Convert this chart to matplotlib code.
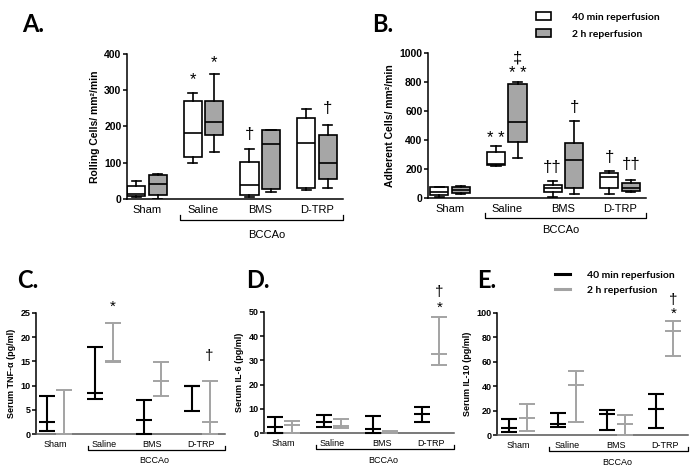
import numpy as np
import matplotlib.pyplot as plt
from matplotlib.patches import Patch
from matplotlib.lines import Line2D

plt.rcParams['font.family'] = ['Liberation Sans', 'DejaVu Sans']

groups = ['Sham', 'Saline', 'BMS', 'D-TRP']

# box plots: [whisker low, q1, median, q3, whisker high]
rolling_40 = [[5, 7, 15, 35, 51], [100, 116, 183, 270, 293], [6, 12, 38, 102, 137], [24, 31, 154, 223, 249]]
rolling_2h = [[0, 12, 40, 65, 70], [129, 176, 212, 270, 345], [19, 27, 151, 190, 190], [29, 56, 100, 176, 204]]
adherent_40 = [[10, 20, 40, 75, 78], [222, 228, 232, 315, 362], [10, 39, 69, 90, 115], [30, 72, 145, 169, 185]]
adherent_2h = [[25, 35, 53, 76, 81], [279, 388, 527, 783, 797], [30, 69, 263, 379, 531], [42, 48, 72, 104, 122]]

# serum cytokines: middle value with low/high range
tnf_40_mid = [2.5, 8.5, 2.8, 9.9]
tnf_40_lo = [0.7, 7.2, 0.0, 4.7]
tnf_40_hi = [7.9, 17.9, 7.0, 10.0]
tnf_2h_mid = [0.0, 15.1, 11.0, 2.5]
tnf_2h_lo = [0.0, 14.9, 7.9, 0.0]
tnf_2h_hi = [9.0, 23.0, 14.9, 11.0]

il6_40_mid = [2.7, 4.8, 1.9, 7.8]
il6_40_lo = [0.0, 2.5, 0.0, 4.8]
il6_40_hi = [6.8, 7.7, 7.1, 11.0]
il6_2h_mid = [3.3, 3.0, 0.4, 32.5]
il6_2h_lo = [0.0, 2.3, 0.0, 28.1]
il6_2h_hi = [5.2, 6.0, 0.8, 47.9]

il10_40_mid = [6.2, 9.2, 17.4, 21.2]
il10_40_lo = [2.4, 7.1, 4.3, 6.3]
il10_40_hi = [13.3, 18.5, 20.7, 33.4]
il10_2h_mid = [14.1, 40.8, 9.2, 84.8]
il10_2h_lo = [3.8, 11.1, 0.0, 65.0]
il10_2h_hi = [25.8, 52.7, 16.6, 93.2]

GREY_BOX = '#a6a6a6'
GREY_LINE = '#a3a3a3'
x = np.arange(len(groups))

fig = plt.figure(figsize=(6.97, 4.72), dpi=100)


def style_axes(ax, ylim, yticks, ylabel, xlim, fs_num, fs_cat, bottom_color='black'):
    ax.set_xlim(*xlim)
    ax.set_ylim(*ylim)
    ax.set_yticks(yticks)
    ax.set_xticks(x)
    ax.set_xticklabels(groups, fontsize=fs_cat)
    for lab in ax.get_yticklabels():
        lab.set_fontsize(fs_num)
        lab.set_fontweight('bold')
    ax.set_ylabel(ylabel, fontsize=fs_num, fontweight='bold', labelpad=3)
    ax.spines['top'].set_visible(False)
    ax.spines['right'].set_visible(False)
    ax.spines['left'].set_linewidth(1.1)
    ax.spines['bottom'].set_linewidth(1.1)
    ax.spines['bottom'].set_color(bottom_color)
    ax.tick_params(axis='x', length=0, pad=4)
    ax.tick_params(axis='y', length=3, width=1.1, pad=1)
    ax.patch.set_alpha(0)


def bracket(ax, x0, x1, y, lx, ly, fs):
    tr = ax.get_xaxis_transform()
    ax.plot([x0, x0, x1, x1], [y + 0.035, y, y, y + 0.035], color='black', lw=0.9,
            transform=tr, clip_on=False)
    ax.text(lx, ly, 'BCCAo', transform=tr, ha='center', va='center', fontsize=fs)


def boxes(ax, rows, pos, face):
    stats = [dict(whislo=r[0], q1=r[1], med=r[2], q3=r[3], whishi=r[4], fliers=[]) for r in rows]
    lp = dict(color='black', linewidth=1.2)
    ax.bxp(stats, positions=pos, widths=0.32, patch_artist=True, showfliers=False,
           boxprops=dict(facecolor=face, edgecolor='black', linewidth=1.2),
           medianprops=lp, whiskerprops=lp, capprops=lp, manage_ticks=False)


def ranges(ax, pos, mid, lo, hi, color, lw):
    mid, lo, hi = np.array(mid), np.array(lo), np.array(hi)
    ax.errorbar(pos, mid, yerr=[mid - lo, hi - mid], fmt='_', color=color, ecolor=color,
                elinewidth=lw, capsize=5.5, capthick=lw, markersize=11, mew=lw,
                clip_on=False, zorder=3)


def marks(ax, items, fs=11):
    for xp, yp, s in items:
        ax.text(xp, yp, s, ha='center', va='center', fontsize=fs, clip_on=False)


# ---- A: rolling cells
axA = fig.add_axes([0.1822, 0.5784, 0.3099, 0.3072])
boxes(axA, rolling_40, x - 0.19, 'white')
boxes(axA, rolling_2h, x + 0.19, GREY_BOX)
style_axes(axA, (0, 400), range(0, 401, 100), 'Rolling Cells/ mm\u00b2/min', (-0.35, 3.46), 7.5, 8)
bracket(axA, 0.58, 3.46, -0.145, 2.12, -0.248, 8)
marks(axA, [(1 - 0.19, 330, '*'), (1 + 0.19, 376, '*'), (2 - 0.19, 177, '\u2020'), (3 + 0.19, 251, '\u2020')], 12)

# ---- B: adherent cells
axB = fig.add_axes([0.6141, 0.5805, 0.3128, 0.3072])
boxes(axB, adherent_40, x - 0.19, 'white')
boxes(axB, adherent_2h, x + 0.19, GREY_BOX)
style_axes(axB, (0, 1000), range(0, 1001, 200), 'Adherent Cells/ mm\u00b2/min', (-0.39, 3.46), 7.5, 8)
bracket(axB, 0.61, 3.46, -0.138, 1.96, -0.22, 8)
marks(axB, [(1 - 0.19, 410, '* *'), (1 + 0.19, 860, '* *'), (1 + 0.19, 966, '\u2021'),
            (2 - 0.19, 207, '\u2020\u2020'), (2 + 0.19, 621, '\u2020'),
            (3 - 0.19, 276, '\u2020'), (3 + 0.19, 228, '\u2020\u2020')], 12)

fig.legend(handles=[Patch(facecolor='white', edgecolor='black', linewidth=1.2),
                    Patch(facecolor=GREY_BOX, edgecolor='black', linewidth=1.2)],
           labels=['40 min reperfusion', '2 h reperfusion'],
           loc='upper left', bbox_to_anchor=(529 / 697, 1 - 5 / 472), frameon=False,
           prop=dict(family='Lato', weight='bold', size=7.5),
           handlelength=1.4, handleheight=0.7, handletextpad=2.0, labelspacing=0.75,
           borderpad=0.2)

# ---- C: TNF-alpha
axC = fig.add_axes([0.0517, 0.0805, 0.2712, 0.2564])
ranges(axC, x - 0.18, tnf_40_mid, tnf_40_lo, tnf_40_hi, 'black', 1.5)
ranges(axC, x + 0.18, tnf_2h_mid, tnf_2h_lo, tnf_2h_hi, GREY_LINE, 1.4)
style_axes(axC, (0, 25), range(0, 26, 5), 'Serum TNF-\u03b1 (pg/ml)', (-0.40, 3.5), 6.5, 6.5, '#555555')
bracket(axC, 0.67, 3.5, -0.13, 2.04, -0.215, 6.5)
marks(axC, [(1 + 0.18, 26.3, '*'), (3 + 0.18, 16.1, '\u2020')], 11)

# ---- D: IL-6
axD = fig.add_axes([0.3788, 0.0820, 0.2726, 0.2576])
ranges(axD, x - 0.18, il6_40_mid, il6_40_lo, il6_40_hi, 'black', 1.5)
ranges(axD, x + 0.18, il6_2h_mid, il6_2h_lo, il6_2h_hi, GREY_LINE, 1.4)
style_axes(axD, (0, 50), range(0, 51, 10), 'Serum IL-6 (pg/ml)', (-0.40, 3.48), 6.5, 6.5, '#555555')
bracket(axD, 0.66, 3.48, -0.13, 2.03, -0.225, 6.5)
marks(axD, [(3 + 0.18, 58.2, '\u2020'), (3 + 0.18, 51.5, '*')], 11)

# ---- E: IL-10
axE = fig.add_axes([0.7131, 0.0778, 0.2740, 0.2597])
ranges(axE, x - 0.18, il10_40_mid, il10_40_lo, il10_40_hi, 'black', 1.5)
ranges(axE, x + 0.18, il10_2h_mid, il10_2h_lo, il10_2h_hi, GREY_LINE, 1.4)
style_axes(axE, (0, 100), range(0, 101, 20), 'Serum IL-10 (pg/ml)', (-0.43, 3.48), 6.5, 6.5, '#555555')
bracket(axE, 0.63, 3.48, -0.13, 2.04, -0.225, 6.5)
marks(axE, [(3 + 0.18, 110, '\u2020'), (3 + 0.18, 99, '*')], 11)

fig.legend(handles=[Line2D([], [], color='black', lw=2.2), Line2D([], [], color=GREY_LINE, lw=2.2)],
           labels=['40 min reperfusion', '2 h reperfusion'],
           loc='upper left', bbox_to_anchor=(548 / 697, 1 - 263 / 472), frameon=False,
           prop=dict(family='Lato', weight='bold', size=7.5),
           handlelength=1.4, handletextpad=1.6, labelspacing=0.6, borderpad=0.2)

# panel letters
for lx, ly, s in [(22, 25, 'A.'), (372, 24, 'B.'), (17, 280, 'C.'), (246, 280, 'D.'), (477, 280, 'E.')]:
    fig.text(lx / 697, 1 - ly / 472, s, fontsize=17, fontweight='bold', family='Lato',
             ha='left', va='center')

fig.savefig('out.png', dpi=100)
